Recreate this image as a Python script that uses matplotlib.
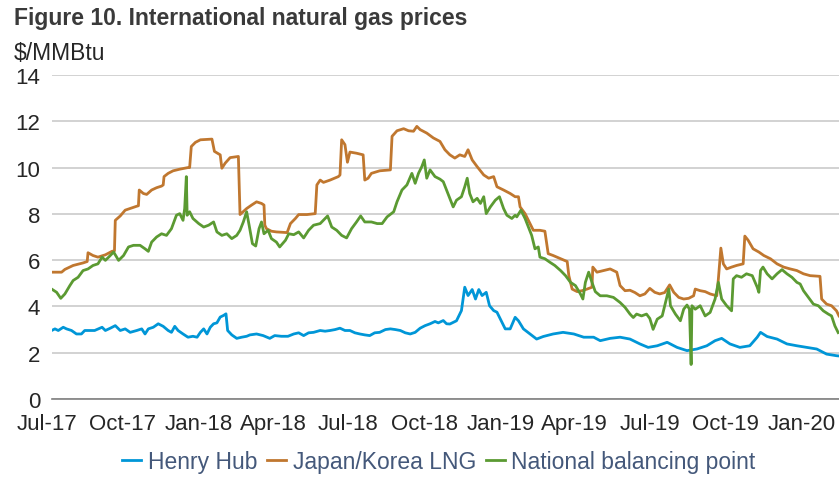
import numpy as np
import matplotlib
matplotlib.use("Agg")
import matplotlib.pyplot as plt
import matplotlib.dates as mdates

plt.rcParams["font.family"] = ["Liberation Sans", "DejaVu Sans"]

HH_COLOR = '#0096D7'
JK_COLOR = '#C0772F'
NBP_COLOR = '#5B9A32'
TEXT_COLOR = '#262626'
LEGEND_COLOR = '#44587A'

BASE_DATE = '2017-07-01'

# (days since 1 Jul 2017, $/MMBtu)
henry_hub = [
    (6, 2.96), (10, 3.03), (14, 2.96), (20, 3.10), (24, 3.03), (30, 2.96), (36, 2.81), (42, 2.81),
    (46, 2.96), (52, 2.96), (58, 2.96), (67, 3.10), (71, 2.96), (77, 3.06), (83, 3.17), (89, 2.96),
    (95, 3.03), (101, 2.88), (109, 2.96), (115, 3.03), (119, 2.81), (123, 3.03), (129, 3.10),
    (135, 3.25), (141, 3.14), (147, 2.96), (151, 2.88), (155, 3.14), (159, 2.96), (165, 2.81),
    (171, 2.67), (177, 2.71), (182, 2.67), (186, 2.88), (190, 3.03), (194, 2.81), (198, 3.10),
    (202, 3.25), (206, 3.29), (210, 3.54), (214, 3.61), (217, 3.68), (219, 2.96), (224, 2.77),
    (230, 2.62), (236, 2.67), (242, 2.71), (246, 2.77), (254, 2.81), (262, 2.74), (270, 2.62),
    (276, 2.74), (284, 2.71), (292, 2.71), (299, 2.81), (305, 2.86), (311, 2.74), (317, 2.86),
    (323, 2.88), (331, 2.96), (337, 2.93), (343, 2.96), (349, 3.00), (355, 3.06), (361, 2.96),
    (367, 2.96), (373, 2.86), (379, 2.81), (385, 2.77), (391, 2.74), (397, 2.86), (403, 2.88),
    (410, 3.00), (416, 3.03), (422, 3.00), (428, 2.96), (434, 2.86), (440, 2.81), (446, 2.88),
    (452, 3.06), (458, 3.17), (464, 3.25), (470, 3.35), (474, 3.29), (480, 3.39), (484, 3.25),
    (488, 3.24), (496, 3.38), (502, 3.82), (506, 4.83), (510, 4.47), (515, 4.73), (519, 4.32),
    (523, 4.73), (527, 4.47), (532, 4.61), (536, 4.03), (541, 3.82), (545, 3.75), (549, 3.46),
    (555, 3.03), (561, 3.03), (567, 3.53), (571, 3.38), (577, 3.03), (585, 2.81), (593, 2.59),
    (601, 2.70), (613, 2.81), (625, 2.88), (638, 2.81), (650, 2.67), (662, 2.67), (670, 2.52),
    (682, 2.62), (694, 2.67), (706, 2.59), (718, 2.38), (728, 2.23), (739, 2.30), (751, 2.45),
    (763, 2.23), (775, 2.09), (787, 2.16), (799, 2.30), (809, 2.52), (817, 2.62), (827, 2.38),
    (839, 2.23), (851, 2.30), (860, 2.67), (864, 2.88), (872, 2.70), (884, 2.59), (896, 2.38),
    (908, 2.30), (920, 2.23), (932, 2.16), (944, 1.94), (956, 1.87), (959, 1.86),
]

japan_korea_lng = [
    (6, 5.48), (18, 5.48), (22, 5.60), (32, 5.77), (44, 5.88), (49, 5.94), (50, 6.32), (56, 6.20),
    (62, 6.13), (71, 6.23), (79, 6.38), (82, 6.40), (83, 7.72), (89, 7.91), (95, 8.16), (103, 8.26),
    (109, 8.33), (111, 8.35), (112, 9.03), (117, 8.88), (121, 8.84), (127, 9.03), (133, 9.13),
    (139, 9.20), (141, 9.25), (142, 9.61), (147, 9.75), (153, 9.86), (161, 9.93), (171, 10.00),
    (173, 10.00), (175, 10.91), (180, 11.09), (186, 11.20), (200, 11.23), (203, 10.70),
    (210, 10.55), (212, 9.97), (216, 10.19), (222, 10.43), (232, 10.48), (234, 7.97), (242, 8.23),
    (248, 8.38), (254, 8.52), (260, 8.45), (263, 8.38), (264, 7.51), (266, 7.36), (272, 7.25),
    (278, 7.22), (291, 7.19), (295, 7.58), (301, 7.80), (305, 7.97), (315, 7.97), (325, 8.01),
    (327, 9.25), (331, 9.46), (335, 9.36), (343, 9.46), (353, 9.61), (355, 9.68), (357, 11.20),
    (361, 10.99), (364, 10.23), (367, 10.67), (375, 10.62), (383, 10.55), (385, 9.46), (389, 9.54),
    (393, 9.75), (403, 9.86), (416, 9.90), (418, 11.35), (424, 11.59), (432, 11.68), (438, 11.59),
    (444, 11.57), (448, 11.78), (452, 11.64), (460, 11.49), (468, 11.28), (476, 11.13),
    (482, 10.77), (488, 10.55), (494, 10.41), (500, 10.55), (506, 10.48), (510, 10.77),
    (515, 10.33), (521, 10.04), (529, 9.68), (535, 9.54), (541, 9.61), (545, 9.17), (553, 9.03),
    (561, 8.88), (567, 8.74), (571, 8.74), (573, 8.30), (579, 8.01), (585, 7.58), (589, 7.29),
    (597, 7.29), (603, 7.25), (607, 6.28), (613, 6.20), (622, 6.06), (630, 5.94), (632, 5.33),
    (636, 4.75), (642, 4.64), (648, 4.68), (654, 4.75), (660, 4.83), (661, 5.70), (666, 5.48),
    (674, 5.55), (682, 5.62), (690, 5.48), (694, 4.90), (700, 4.68), (706, 4.70), (712, 4.60),
    (718, 4.46), (724, 4.54), (730, 4.78), (736, 4.61), (742, 4.54), (748, 4.60), (754, 4.93),
    (759, 4.61), (765, 4.39), (771, 4.32), (777, 4.35), (783, 4.46), (785, 4.75), (791, 4.68),
    (797, 4.64), (803, 4.54), (811, 4.46), (813, 5.19), (816, 6.52), (819, 5.84), (823, 5.62),
    (829, 5.70), (835, 5.77), (843, 5.84), (845, 7.04), (849, 6.86), (855, 6.49), (862, 6.35),
    (868, 6.20), (876, 6.06), (884, 5.84), (892, 5.70), (900, 5.62), (908, 5.55), (916, 5.41),
    (924, 5.33), (936, 5.30), (938, 4.32), (944, 4.10), (950, 4.03), (956, 3.81), (959, 3.59),
]

national_balancing_point = [
    (6, 4.75), (12, 4.61), (17, 4.35), (22, 4.54), (28, 4.90), (32, 5.12), (38, 5.26), (44, 5.55),
    (50, 5.62), (56, 5.77), (62, 5.84), (67, 6.13), (71, 5.99), (75, 6.13), (81, 6.35), (87, 5.99),
    (93, 6.20), (99, 6.57), (105, 6.64), (113, 6.64), (119, 6.49), (123, 6.38), (127, 6.78),
    (133, 7.00), (139, 7.14), (145, 7.07), (151, 7.36), (157, 7.94), (161, 8.01), (165, 7.72),
    (167, 8.23), (169, 9.61), (170, 7.94), (173, 8.09), (177, 7.80), (184, 7.58), (190, 7.43),
    (196, 7.51), (202, 7.65), (206, 7.22), (212, 7.07), (218, 7.14), (224, 6.93), (230, 7.07),
    (234, 7.29), (238, 7.65), (242, 8.09), (245, 7.51), (249, 6.71), (253, 6.61), (257, 7.36),
    (260, 7.65), (263, 7.14), (268, 7.29), (272, 6.93), (278, 6.78), (282, 6.57), (289, 6.86),
    (293, 7.14), (299, 7.10), (305, 7.22), (311, 6.96), (317, 7.29), (323, 7.51), (331, 7.58),
    (340, 7.91), (345, 7.43), (351, 7.29), (357, 7.07), (363, 6.96), (369, 7.36), (375, 7.65),
    (380, 7.91), (385, 7.65), (393, 7.65), (400, 7.58), (406, 7.58), (412, 7.87), (420, 8.09),
    (424, 8.52), (430, 9.03), (436, 9.25), (442, 9.75), (446, 9.32), (450, 9.75), (454, 10.04),
    (457, 10.33), (460, 9.54), (464, 9.90), (470, 9.61), (476, 9.50), (480, 9.39), (484, 9.03),
    (488, 8.67), (492, 8.30), (496, 8.59), (502, 8.74), (506, 9.17), (509, 9.54), (512, 8.88),
    (516, 8.52), (521, 8.67), (525, 8.45), (529, 8.74), (532, 8.01), (537, 8.30), (543, 8.59),
    (548, 8.74), (553, 8.23), (557, 7.94), (563, 7.80), (567, 7.94), (569, 7.87), (574, 8.16),
    (579, 7.80), (583, 7.43), (587, 7.07), (591, 6.49), (595, 6.57), (597, 6.13), (603, 6.06),
    (609, 5.91), (615, 5.77), (622, 5.55), (628, 5.33), (634, 5.04), (640, 4.90), (646, 4.54),
    (649, 4.32), (652, 5.04), (656, 5.48), (660, 5.04), (664, 4.64), (670, 4.46), (678, 4.46),
    (686, 4.39), (694, 4.17), (700, 3.96), (706, 3.67), (710, 3.52), (714, 3.67), (720, 3.59),
    (726, 3.67), (730, 3.48), (734, 3.01), (739, 3.45), (745, 3.59), (749, 4.17), (753, 4.75),
    (755, 4.03), (761, 3.67), (767, 3.38), (771, 3.88), (775, 4.06), (778, 3.88), (780, 1.49),
    (781, 4.03), (785, 3.88), (791, 4.03), (797, 3.59), (803, 3.74), (809, 4.32), (813, 5.04),
    (817, 4.32), (823, 4.03), (829, 3.81), (831, 5.19), (835, 5.33), (841, 5.26), (847, 5.41),
    (854, 5.33), (860, 4.83), (862, 4.61), (864, 5.55), (867, 5.70), (872, 5.41), (878, 5.19),
    (884, 5.41), (890, 5.59), (896, 5.41), (902, 5.26), (908, 5.04), (912, 4.97), (916, 4.68),
    (922, 4.39), (928, 4.10), (934, 4.03), (940, 3.81), (946, 3.67), (950, 3.59), (954, 3.16),
    (958, 2.87),
]

series = [
    ('Henry Hub', henry_hub, HH_COLOR),
    ('Japan/Korea LNG', japan_korea_lng, JK_COLOR),
    ('National balancing point', national_balancing_point, NBP_COLOR),
]

y_ticks = [0, 2, 4, 6, 8, 10, 12, 14]
x_start_day = 6.4
x_end_day = 959


def to_dates(days):
    return np.datetime64(BASE_DATE) + np.array(days).astype('timedelta64[D]')


fig = plt.figure(figsize=(8.39, 4.89), dpi=100)
ax = fig.add_axes([52 / 839, 1 - 400 / 489, 1 - 52 / 839, (400 - 76) / 489])

for name, pts, color in series:
    days, vals = zip(*pts)
    ax.plot(to_dates(days), vals, color=color, linewidth=2.0, label=name,
            solid_joinstyle='round')

base_num = mdates.date2num(np.datetime64(BASE_DATE))
ax.set_xlim(base_num + x_start_day, base_num + x_end_day)
ax.set_ylim(0, 14)
ax.set_yticks(y_ticks)

ax.xaxis.set_major_locator(mdates.MonthLocator(bymonth=[1, 4, 7, 10]))
ax.xaxis.set_major_formatter(mdates.DateFormatter('%b-%y'))

tick_pad = 10
ax.tick_params(axis='both', length=0, labelsize=16, colors=TEXT_COLOR)
ax.tick_params(axis='x', pad=tick_pad)
ax.tick_params(axis='y', pad=8.5)

# first quarter label sits left of the plotted range
ax.annotate('Jul-17', xy=(base_num, 0), xycoords=('data', 'axes fraction'),
            xytext=(0, -tick_pad), textcoords='offset points',
            ha='center', va='top', fontsize=16, color=TEXT_COLOR,
            annotation_clip=False)

ax.grid(True, axis='y', color='#C6C6C6', linewidth=1.1, zorder=0)
ax.set_axisbelow(True)
for side in ['top', 'left', 'right']:
    ax.spines[side].set_visible(False)
ax.spines['bottom'].set_color('#808080')
ax.spines['bottom'].set_linewidth(1.2)

fig.text(14 / 839, 1 - 25 / 489, 'Figure 10. International natural gas prices',
         fontsize=16.5, fontweight='bold', color='#3A3A3A', ha='left', va='baseline')
fig.text(14 / 839, 1 - 60 / 489, '$/MMBtu', fontsize=16.5, color=TEXT_COLOR,
         ha='left', va='baseline')

fig.legend(loc='center', bbox_to_anchor=(439 / 839, 1 - 463 / 489), ncol=3,
           frameon=False, fontsize=16.5, labelcolor=LEGEND_COLOR,
           handlelength=0.8, handletextpad=0.3, columnspacing=0.45,
           borderaxespad=0)

fig.savefig('out.png', dpi=100)
